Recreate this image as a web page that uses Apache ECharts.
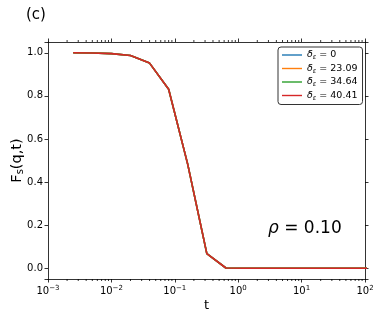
<!DOCTYPE html>
<html><head><meta charset="utf-8">
<script src="https://cdn.jsdelivr.net/npm/echarts@6/dist/echarts.min.js"></script>
<style>html,body{margin:0;padding:0;background:#fff}#c{width:381px;height:318px}</style>
</head><body><div id="c"></div>
<script>
const tValues = [0.0025,0.005,0.01,0.02,0.04,0.08,0.16,0.32,0.64,1.28,2.56,5.12,10.24,20.48,40.96,81.92,163.84];
const fs0     = [1.0,0.999,0.996,0.987,0.952,0.831,0.482,0.068,0.001,0.0,0.0,0.0,0.0,0.0,0.0,0.0,0.0];
const fs2309  = [1.0,0.999,0.996,0.987,0.952,0.831,0.482,0.068,0.001,0.0,0.0,0.0,0.0,0.0,0.0,0.0,0.0];
const fs3464  = [1.0,0.999,0.996,0.987,0.952,0.831,0.482,0.068,0.001,0.0,0.0,0.0,0.0,0.0,0.0,0.0,0.0];
const fs4041  = [1.0,0.999,0.996,0.987,0.952,0.831,0.482,0.068,0.001,0.0,0.0,0.0,0.0,0.0,0.0,0.0,0.0];
const deltaLabels = ['0','23.09','34.64','40.41'];
const seriesColors = ['#1f77b4','#ff7f0e','#2ca02c','#d62728'];
const yTicks = [0.0,0.2,0.4,0.6,0.8,1.0];
const minorTicksX = [];
for (let e = -3; e < 2; e++) for (let m = 2; m <= 9; m++) minorTicksX.push(m * Math.pow(10, e));

const FONT = 'DejaVu Sans';
const allSeriesData = [fs0, fs2309, fs3464, fs4041];
const names = deltaLabels.map(d => 'δε = ' + d);

const chart = echarts.init(document.getElementById('c'), null, {renderer:'canvas'});
function expLabel(v){
  const e = Math.round(Math.log10(v));
  return '{b|10}{s|' + String(e).replace('-','−') + '}';
}
function yLabel(v){
  const hit = yTicks.find(y => Math.abs(y - v) < 1e-6);
  return hit === undefined ? '' : hit.toFixed(1);
}
const series = allSeriesData.map((arr, i) => ({
  name: names[i], type:'line', xAxisIndex:0, yAxisIndex:0,
  data: tValues.map((t,j)=>[t, arr[j]]),
  showSymbol:false, symbol:'none',
  lineStyle:{color:seriesColors[i], width:1.6},
  itemStyle:{color:seriesColors[i]},
  clip:true, silent:true, z: 3+i
}));
series.push({
  type:'custom', xAxisIndex:0, yAxisIndex:0, clip:false, silent:true,
  data: minorTicksX.map(v=>[v]),
  renderItem: function(params, api){
    const v = api.value(0);
    const b = api.coord([v, -0.05]);
    const t = api.coord([v, 1.05]);
    const st = {stroke:'#000', lineWidth:0.8};
    return {type:'group', children:[
      {type:'line', shape:{x1:b[0],y1:b[1],x2:b[0],y2:b[1]+2}, style:st},
      {type:'line', shape:{x1:t[0],y1:t[1],x2:t[0],y2:t[1]-2}, style:st}
    ]};
  }
});

const yCommon = {type:'value', min:-0.05, max:1.05, splitNumber:5,
  axisLine:{show:true, onZero:false, lineStyle:{color:'#000', width:0.8}},
  axisTick:{show:true, inside:false, length:3.5, lineStyle:{color:'#000', width:0.8}},
  splitLine:{show:false}};

const option = {
  animation:false,
  backgroundColor:'#fff',
  textStyle:{fontFamily:FONT},
  title:[
    {text:'(c)', left:21, top:3, textStyle:{fontFamily:FONT, fontSize:15, fontWeight:'normal', color:'#000'}},
    {text:'{i|ρ}{n| = 0.10}', left:263, top:215,
     textStyle:{fontWeight:'normal', rich:{i:{fontFamily:FONT, fontStyle:'italic', fontWeight:'normal', fontSize:17, color:'#000'}, n:{fontFamily:FONT, fontWeight:'normal', fontSize:17, color:'#000'}}}}
  ],
  grid:{left:48, right:16, top:42, bottom:39, outerBoundsMode:'none', containLabel:false},
  legend:{
    orient:'vertical', left:278, top:47, data:names,
    padding:[3,5,3,4], itemGap:2.5, itemWidth:20, itemHeight:11, align:'left',
    icon:'path://M0,4.8 L20,4.8 L20,6.2 L0,6.2 Z',
    borderColor:'#333', borderWidth:1, borderRadius:3, backgroundColor:'rgba(255,255,255,0.8)',
    formatter: function(n){ const d = n.split('= ')[1]; return '{i|δ}{s|ε}{n| = ' + d + '}'; },
    textStyle:{fontFamily:FONT, fontSize:9.5, color:'#000', padding:[0,0,0,0],
      rich:{i:{fontFamily:FONT, fontStyle:'italic', fontSize:9.5, color:'#000'},
            s:{fontFamily:FONT, fontStyle:'italic', fontSize:6.5, color:'#000', verticalAlign:'bottom', padding:[5,0,0,0]},
            n:{fontFamily:FONT, fontSize:9.5, color:'#000'}}}
  },
  xAxis:[
    {type:'log', logBase:10, min:0.001, max:100, position:'bottom',
     name:'t', nameLocation:'middle', nameGap:20, nameMoveOverlap:false,
     nameTextStyle:{fontFamily:FONT, fontSize:13, color:'#000'},
     axisLine:{show:true, onZero:false, lineStyle:{color:'#000', width:0.8}},
     axisTick:{show:true, inside:false, length:3.5, lineStyle:{color:'#000', width:0.8}},
     minorTick:{show:false},
     splitLine:{show:false},
     axisLabel:{formatter:expLabel, margin:6, color:'#000',
       rich:{b:{fontFamily:FONT, fontSize:10, color:'#000'}, s:{fontFamily:FONT, fontSize:7, color:'#000', verticalAlign:'top', padding:[0,0,6,0]}}}},
    {type:'log', logBase:10, min:0.001, max:100, position:'top',
     axisLine:{show:true, onZero:false, lineStyle:{color:'#000', width:0.8}},
     axisTick:{show:true, inside:false, length:3.5, lineStyle:{color:'#000', width:0.8}},
     axisLabel:{show:false}, splitLine:{show:false}}
  ],
  yAxis:[
    Object.assign({}, yCommon, {position:'left',
     name:'{a|F}{s|s}{a|(q,t)}', nameLocation:'middle', nameGap:28, nameRotate:90, nameMoveOverlap:false,
     nameTextStyle:{padding:[0,0,-5,0], rich:{a:{fontFamily:FONT, fontSize:14.5, color:'#000'}, s:{fontFamily:FONT, fontSize:10, color:'#000', verticalAlign:'bottom', padding:[6,0,0,0]}}},
     axisLabel:{margin:5, color:'#000', fontFamily:FONT, fontSize:10, formatter:yLabel}}),
    Object.assign({}, yCommon, {position:'right', axisLabel:{show:false}})
  ],
  series: series
};
chart.setOption(option);
</script></body></html>
